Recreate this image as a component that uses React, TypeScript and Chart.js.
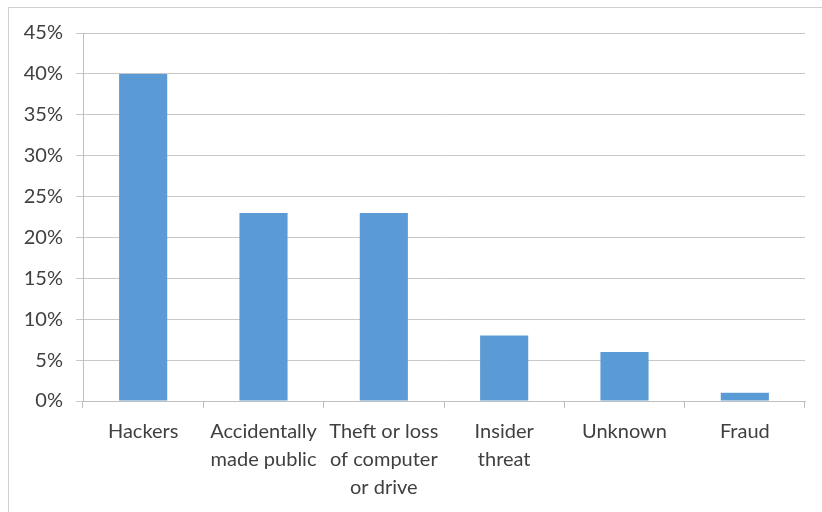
import React, { useEffect, useRef } from "react";
import { Chart, registerables } from "chart.js";

Chart.register(...registerables);

const categories: string[][] = [
  ["Hackers"],
  ["Accidentally", "made public"],
  ["Theft or loss", "of computer", "or drive"],
  ["Insider", "threat"],
  ["Unknown"],
  ["Fraud"],
];
const shares: number[] = [40, 23, 23, 8, 6, 1];
const yMax = 45;
const yStep = 5;

export default function App() {
  const ref = useRef<HTMLCanvasElement | null>(null);

  useEffect(() => {
    if (!ref.current) return;
    const font = { family: "Lato, 'Open Sans', sans-serif", size: 20 };
    const chart = new Chart(ref.current, {
      type: "bar",
      data: {
        labels: categories,
        datasets: [
          {
            data: shares,
            backgroundColor: "#5B9BD5",
            borderWidth: 0,
            barPercentage: 0.4,
            categoryPercentage: 1,
          },
        ],
      },
      options: {
        animation: false,
        responsive: false,
        maintainAspectRatio: false,
        layout: { padding: { left: 0, top: 33, right: 17, bottom: 0 } },
        plugins: { legend: { display: false }, tooltip: { enabled: false } },
        scales: {
          x: {
            offset: true,
            grid: {
              drawOnChartArea: false,
              drawTicks: true,
              tickLength: 7,
              color: "#BFBFBF",
              offset: true,
            },
            border: { color: "#BFBFBF", width: 1 },
            ticks: {
              font: { ...font, lineHeight: 1.4 },
              color: "#404040",
              padding: 10,
              maxRotation: 0,
              minRotation: 0,
              autoSkip: false,
            },
            afterFit: (s: any) => {
              s.height = 111;
            },
          },
          y: {
            min: 0,
            max: yMax,
            grid: { color: "#C8C8C8", tickLength: 7 },
            border: { color: "#BFBFBF", width: 1 },
            ticks: {
              stepSize: yStep,
              font,
              color: "#404040",
              padding: 13,
              callback: (v: any) => `${v}%`,
            },
            afterFit: (s: any) => {
              s.width = 83;
            },
          },
        },
      },
    });
    return () => chart.destroy();
  }, []);

  return (
    <div
      style={{
        position: "fixed",
        left: 0,
        top: 0,
        width: 822,
        height: 512,
        overflow: "hidden",
        background: "#fff",
      }}
    >
      <div
        style={{
          position: "absolute",
          left: 8,
          top: 7,
          width: 900,
          height: 600,
          border: "1px solid #D0D0D0",
          boxSizing: "border-box",
        }}
      />
      <canvas
        ref={ref}
        width={822}
        height={512}
        style={{ position: "absolute", left: 0, top: 0, width: 822, height: 512 }}
      />
    </div>
  );
}
